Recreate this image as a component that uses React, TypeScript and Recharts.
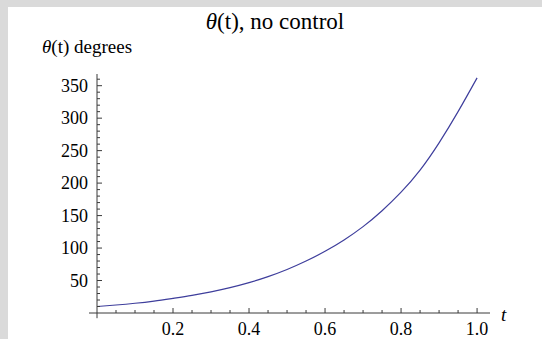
import { Line, LineChart, ReferenceLine, XAxis, YAxis } from 'recharts';

const tValues = [0, 0.05, 0.1, 0.15, 0.2, 0.25, 0.3, 0.35, 0.4, 0.45, 0.5, 0.55, 0.6, 0.65, 0.7, 0.75, 0.8, 0.85, 0.9, 0.95, 1.0];
const thetaDeg = [10, 12.3, 15.0, 18.4, 22.6, 27.1, 32.5, 39.0, 46.7, 56, 67, 80, 95, 112.5, 133, 157.5, 186, 220, 262, 310, 362];

const xMajorTicks = [0.2, 0.4, 0.6, 0.8, 1.0];
const yMajorTicks = [50, 100, 150, 200, 250, 300, 350];
// minor ticks every 0.05 / every 10, majors are picked out of these
const xAllTicks = Array.from({ length: 20 }, (_, i) => +(0.05 * (i + 1)).toFixed(2));
const yAllTicks = Array.from({ length: 36 }, (_, i) => 10 * (i + 1));

const data = tValues.map((t, i) => ({ t, theta: thetaDeg[i] }));

const AXIS = '#3a3a3a';
const LINE = '#3e3e9c';
const FONT = "'Liberation Serif', 'Times New Roman', serif";

const XTick = (props: any) => {
  const { x, y, payload } = props;
  const v = payload.value;
  const major = xMajorTicks.some((m) => Math.abs(m - v) < 1e-6);
  return (
    <g>
      <line x1={x} x2={x} y1={y} y2={y - (major ? 5 : 3)} stroke={AXIS} />
      {major && (
        <text x={x} y={y + 22} textAnchor="middle" fontSize={18} fontFamily={FONT} fill="#000">
          {v.toFixed(1)}
        </text>
      )}
    </g>
  );
};

const YTick = (props: any) => {
  const { x, y, payload } = props;
  const v = payload.value;
  const major = yMajorTicks.includes(v);
  return (
    <g>
      <line x1={x} x2={x + (major ? 5 : 3)} y1={y} y2={y} stroke={AXIS} />
      {major && (
        <text x={x - 9} y={y + 6} textAnchor="end" fontSize={18} fontFamily={FONT} fill="#000">
          {v}
        </text>
      )}
    </g>
  );
};

const App = () => (
  <div style={{ position: 'absolute', left: 0, top: 0, width: 542, height: 339, background: '#dadada', overflow: 'hidden' }}>
    <div style={{ position: 'absolute', left: 8, top: 7, width: 534, height: 332, background: '#fff' }}>
      <LineChart width={534} height={332} data={data} margin={{ top: 67, right: 52, bottom: 0, left: 0 }}>
        <XAxis
          dataKey="t"
          type="number"
          domain={[0, 1.034]}
          ticks={xAllTicks}
          height={26}
          tickSize={0}
          tickMargin={0}
          tickLine={false}
          tick={<XTick />}
          axisLine={{ stroke: AXIS }}
          interval={0}
        />
        <YAxis
          type="number"
          domain={[0, 368]}
          ticks={yAllTicks}
          width={89}
          tickSize={0}
          tickMargin={0}
          tickLine={false}
          tick={<YTick />}
          axisLine={{ stroke: AXIS }}
          interval={0}
        />
        <ReferenceLine segment={[{ x: -0.021, y: 0 }, { x: 0, y: 0 }]} ifOverflow="visible" stroke={AXIS} />
        <ReferenceLine segment={[{ x: 0, y: -8 }, { x: 0, y: 0 }]} ifOverflow="visible" stroke={AXIS} />
        <Line type="natural" dataKey="theta" stroke={LINE} strokeWidth={1.2} dot={false} isAnimationActive={false} />
      </LineChart>
    </div>
    <div style={{ position: 'absolute', left: 275, top: 10, transform: 'translateX(-50%)', fontFamily: FONT, fontSize: 23, lineHeight: 1, whiteSpace: 'nowrap' }}>
      <i>θ</i>(t), no control
    </div>
    <div style={{ position: 'absolute', left: 42, top: 37, fontFamily: FONT, fontSize: 19, lineHeight: 1, whiteSpace: 'nowrap' }}>
      <i>θ</i>(t) degrees
    </div>
    <div style={{ position: 'absolute', left: 501, top: 305, fontFamily: FONT, fontSize: 19, fontStyle: 'italic', lineHeight: 1 }}>t</div>
  </div>
);

export default App;
